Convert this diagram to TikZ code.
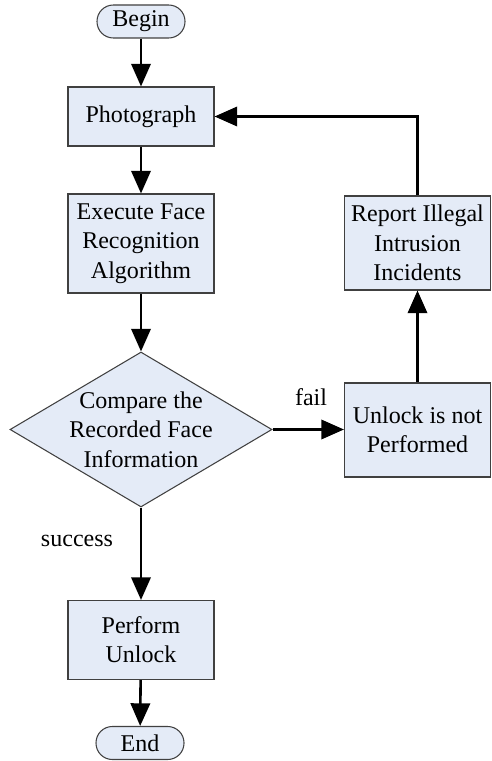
\documentclass[tikz,border=0pt]{standalone}
\usepackage{fontspec}
\setmainfont{Liberation Serif}
\usetikzlibrary{shapes.geometric,arrows.meta}
\definecolor{boxfill}{RGB}{228,235,247}
\begin{document}
\begin{tikzpicture}[x=0.03cm, y=-0.03cm,
  font=\fontsize{20.5}{25}\selectfont,
  box/.style={draw=black!75, fill=boxfill, line width=0.9pt, minimum width=4.38cm, align=center, inner sep=0pt},
  term/.style={draw=black!75, fill=boxfill, line width=0.9pt, rounded corners=0.49cm, minimum width=2.64cm, minimum height=0.99cm, inner sep=0pt},
  decision/.style={draw=black!75, fill=boxfill, line width=0.9pt, diamond, minimum width=7.86cm, minimum height=4.65cm, inner sep=0pt},
  flow/.style={line width=2.2pt, -{Triangle[length=0.68cm,width=0.58cm]}}]
  \useasboundingbox (0,0) rectangle (491,761);
  % main column
  \node[term] (start) at (141,21.5) {Begin};
  \node[box, minimum height=1.77cm] (photo) at (141,116.5) {Photograph};
  \node[box, minimum height=2.97cm] (execute) at (141,243.5) {Execute Face\\Recognition\\Algorithm};
  \node[decision] (compare) at (141,429.5) {};
  \node[align=center] (comparetext) at (compare) {Compare the\\Recorded Face\\Information};
  \node[box, minimum height=2.37cm] (perform) at (141,640) {Perform\\Unlock};
  \node[term] (stop) at (140,743) {End};
  % right column
  \node[box, minimum height=2.82cm] (unlock) at (417.5,430) {Unlock is not\\Performed};
  \node[box, minimum height=2.82cm] (report) at (417.5,243) {Report Illegal\\Intrusion\\Incidents};
  % labels
  \node (fail) at (311,397) {fail};
  \node (success) at (77,541) {success};
  % connectors
  \draw[flow] (start) -- (photo);
  \draw[flow] (photo) -- (execute);
  \draw[flow] (execute) -- (compare);
  \draw[flow] (compare.east) -- (compare.east -| unlock.west);
  \draw[flow] (compare) -- (perform);
  \draw[flow] (perform) -- (stop);
  \draw[flow] (unlock) -- (report);
  \draw[flow] (report.north) |- (photo.east);
\end{tikzpicture}
\end{document}
